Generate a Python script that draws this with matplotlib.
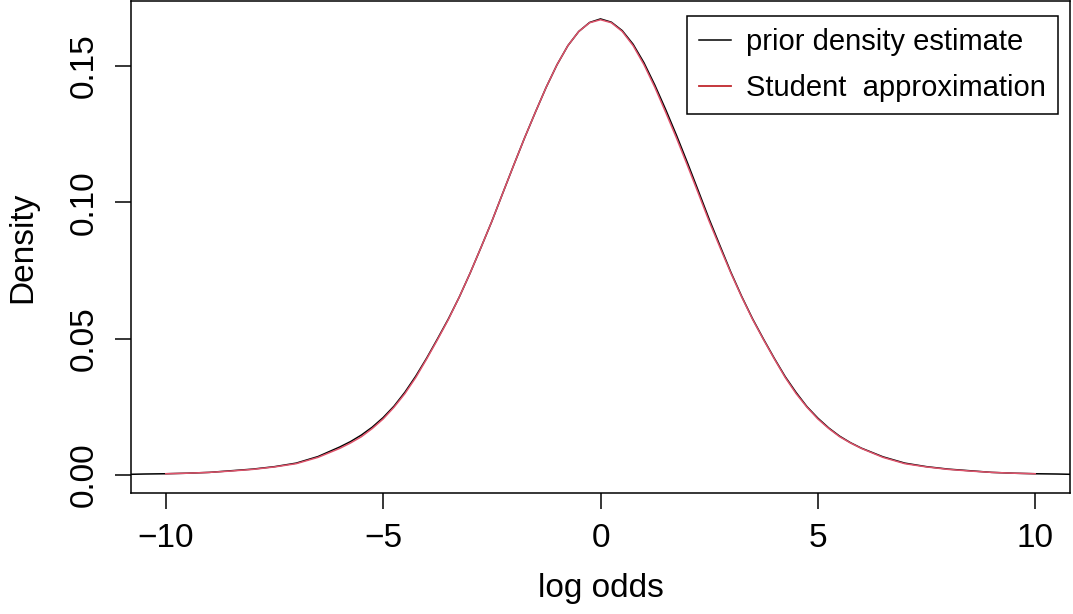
import matplotlib
matplotlib.use("Agg")
from matplotlib import pyplot as plt
from matplotlib.lines import Line2D

plt.rcParams['font.family'] = ['Liberation Sans', 'DejaVu Sans']

# values (log odds grid and density heights)
grid_x = [-10.8, -10.5, -10.0, -9.5, -9.0, -8.5, -8.0, -7.5, -7.0, -6.5, -6.0,
          -5.75, -5.5, -5.25, -5.0, -4.75, -4.5, -4.25, -4.0, -3.75, -3.5,
          -3.25, -3.0, -2.75, -2.5, -2.25, -2.0, -1.75, -1.5, -1.25, -1.0,
          -0.75, -0.5, -0.25, 0.0, 0.25, 0.5, 0.75, 1.0, 1.25, 1.5, 1.75, 2.0,
          2.25, 2.5, 2.75, 3.0, 3.25, 3.5, 3.75, 4.0, 4.25, 4.5, 4.75, 5.0,
          5.25, 5.5, 5.75, 6.0, 6.5, 7.0, 7.5, 8.0, 8.5, 9.0, 9.5, 10.0, 10.5,
          10.8]

prior_est = [0.0002, 0.0003, 0.0004, 0.0006, 0.0009, 0.0015, 0.0021, 0.0030,
             0.0043, 0.0067, 0.0102, 0.0122, 0.0146, 0.0175, 0.0210, 0.0252,
             0.0303, 0.0362, 0.0428, 0.0499, 0.0572, 0.0652, 0.0740, 0.0834,
             0.0930, 0.1033, 0.1135, 0.1235, 0.1330, 0.1422, 0.1505, 0.1575,
             0.1627, 0.1660, 0.1673, 0.1661, 0.1630, 0.1580, 0.1512, 0.1430,
             0.1340, 0.1245, 0.1145, 0.1042, 0.0938, 0.0840, 0.0743, 0.0654,
             0.0572, 0.0498, 0.0427, 0.0360, 0.0302, 0.0250, 0.0208, 0.0172,
             0.0142, 0.0118, 0.0098, 0.0066, 0.0043, 0.0030, 0.0021, 0.0015,
             0.0009, 0.0006, 0.0004, 0.0003, 0.0002]

student_x = [-10.0, -9.5, -9.0, -8.5, -8.0, -7.5, -7.0, -6.5, -6.0, -5.75,
             -5.5, -5.25, -5.0, -4.75, -4.5, -4.25, -4.0, -3.75, -3.5, -3.25,
             -3.0, -2.75, -2.5, -2.25, -2.0, -1.75, -1.5, -1.25, -1.0, -0.75,
             -0.5, -0.25, 0.0, 0.25, 0.5, 0.75, 1.0, 1.25, 1.5, 1.75, 2.0, 2.25,
             2.5, 2.75, 3.0, 3.25, 3.5, 3.75, 4.0, 4.25, 4.5, 4.75, 5.0, 5.25,
             5.5, 5.75, 6.0, 6.5, 7.0, 7.5, 8.0, 8.5, 9.0, 9.5, 10.0]

student_approx = [0.0004, 0.0006, 0.0009, 0.0014, 0.0020, 0.0029, 0.0041,
                  0.0064, 0.0097, 0.0117, 0.0140, 0.0170, 0.0205, 0.0248,
                  0.0298, 0.0357, 0.0425, 0.0496, 0.0570, 0.0652, 0.0740,
                  0.0834, 0.0930, 0.1033, 0.1135, 0.1235, 0.1330, 0.1422,
                  0.1505, 0.1575, 0.1627, 0.1659, 0.1670, 0.1659, 0.1627,
                  0.1575, 0.1505, 0.1422, 0.1330, 0.1235, 0.1135, 0.1033,
                  0.0930, 0.0834, 0.0740, 0.0652, 0.0570, 0.0496, 0.0425,
                  0.0357, 0.0298, 0.0248, 0.0205, 0.0170, 0.0140, 0.0117,
                  0.0097, 0.0064, 0.0041, 0.0029, 0.0020, 0.0014, 0.0009,
                  0.0006, 0.0004]

legend_labels = ['prior density estimate', 'Student  approximation']

fig = plt.figure(figsize=(10.73, 6.14), dpi=100)
ax = fig.add_axes([0.1221, 0.197, 0.8751, 0.8006])

ax.plot(grid_x, prior_est, color='black', lw=1.1)
ax.plot(student_x, student_approx, color='#DF536B', lw=1.1)

ax.set_xlim(-10.8, 10.8)
ax.set_ylim(-0.00668, 0.1737)
ax.set_xticks([-10, -5, 0, 5, 10])
ax.set_yticks([0.0, 0.05, 0.10, 0.15])
ax.set_yticklabels(['0.00', '0.05', '0.10', '0.15'], rotation=90, va='center')
ax.tick_params(direction='out', length=11.5, width=1.1, labelsize=24)
ax.tick_params(axis='x', pad=10)
ax.tick_params(axis='y', pad=11)
for s in ax.spines.values():
    s.set_linewidth(1.1)

ax.set_xlabel('log odds', fontsize=24, labelpad=14)
ax.set_ylabel('Density', fontsize=24, labelpad=22)

handles = [Line2D([], [], color='black', lw=1.1),
           Line2D([], [], color='#C0282D', lw=1.3)]
leg = ax.legend(handles, legend_labels, loc='upper right',
                bbox_to_anchor=(0.9872, 0.971), fontsize=21, frameon=True,
                fancybox=False, edgecolor='black', framealpha=1,
                handlelength=1.1, handletextpad=0.5, borderpad=0.42,
                labelspacing=0.62, borderaxespad=0)
leg.get_frame().set_linewidth(1.1)

plt.savefig('out.png', dpi=100)
